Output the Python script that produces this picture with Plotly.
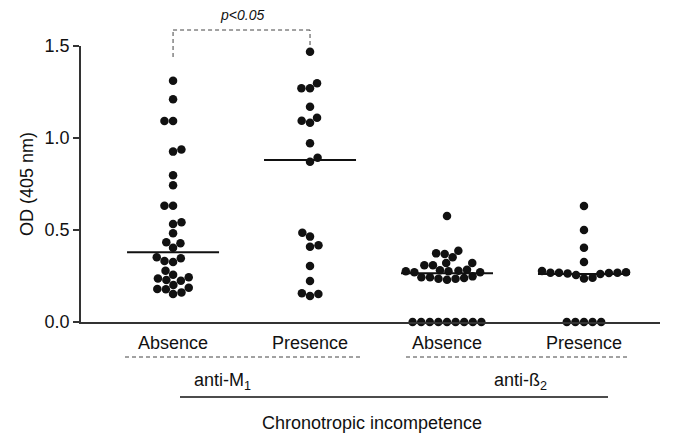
import math
import plotly.graph_objects as go

# ---------------- data ----------------
categories = ["Absence", "Presence", "Absence", "Presence"]
groups = ["anti-M<sub>1</sub>", "anti-ß<sub>2</sub>"]
axis_title = "OD (405 nm)"
bottom_title = "Chronotropic incompetence"
y_ticks = [0.0, 0.5, 1.0, 1.5]
y_tick_labels = ["0.0", "0.5", "1.0", "1.5"]

m1_absence = [0.152, 0.161, 0.178, 0.179, 0.186, 0.201, 0.224, 0.228, 0.237, 0.243,
              0.257, 0.279, 0.326, 0.332, 0.346, 0.352, 0.404, 0.428, 0.433, 0.482,
              0.533, 0.542, 0.632, 0.632, 0.743, 0.797, 0.926, 0.937, 1.092, 1.092,
              1.210, 1.311]
m1_presence = [0.141, 0.152, 0.156, 0.223, 0.304, 0.409, 0.417, 0.464, 0.485, 0.871,
               0.893, 0.971, 1.083, 1.094, 1.110, 1.170, 1.270, 1.270, 1.297, 1.469]
b2_absence = [0.0, 0.0, 0.0, 0.0, 0.0, 0.0, 0.0, 0.0, 0.0,
              0.230, 0.235, 0.235, 0.239, 0.243, 0.243, 0.248,
              0.270, 0.270, 0.276, 0.279, 0.276, 0.281, 0.284,
              0.308, 0.308, 0.321, 0.321, 0.352, 0.370, 0.373, 0.387, 0.576]
b2_presence = [0.0, 0.0, 0.0, 0.0, 0.0, 0.237, 0.241, 0.255, 0.261, 0.264, 0.266,
               0.268, 0.268, 0.268, 0.270, 0.277, 0.326, 0.404, 0.500, 0.630]
medians = [0.379, 0.880, 0.265, 0.261]
p_text = "<i>p&lt;0.05</i>"

series = [m1_absence, m1_presence, b2_absence, b2_presence]
positions = [1, 2, 3, 4]

# ---------------- layout constants (window pixels) ----------------
WIN_W, WIN_H = 673, 435
BODY = 8                       # default page margin around the plot div
PLOT_L, PLOT_R, PLOT_T, PLOT_B = 81, 660, 46, 322
W, H = WIN_W - BODY, WIN_H - BODY
ML, MT = PLOT_L - BODY, PLOT_T - BODY
MR, MB = WIN_W - PLOT_R, WIN_H - PLOT_B
XR = [0.328, 4.555]
YR = [0.0, 1.5]
plot_w = PLOT_R - PLOT_L
plot_h = PLOT_B - PLOT_T
px_x = plot_w / (XR[1] - XR[0])
px_y = plot_h / (YR[1] - YR[0])
DOT = 8.6  # collision distance in px


def swarm(vals):
    placed = []
    offs = [0.0] * len(vals)
    order = sorted(range(len(vals)), key=lambda i: vals[i])
    flip = 1
    for i in order:
        y = vals[i] * px_y
        iv = []
        for (qx, qy) in placed:
            dy = abs(qy - y)
            if dy < DOT:
                w = math.sqrt(DOT * DOT - dy * dy)
                iv.append((qx - w, qx + w))
        cands = [0.0] + [a for a, b in iv] + [b for a, b in iv]
        cands.sort(key=lambda c: (round(abs(c), 4), -c * flip))
        chosen = 0.0
        for c in cands:
            if all(not (a + 1e-6 < c < b - 1e-6) for a, b in iv):
                chosen = c
                break
        if chosen != 0:
            flip = -flip
        placed.append((chosen, y))
        offs[i] = chosen / px_x
    return offs


def py2paper(py):
    return (PLOT_B - py) / plot_h


def px2x(px):
    return XR[0] + (px - PLOT_L) / px_x


fig = go.Figure()
for pos, vals in zip(positions, series):
    offs = swarm(vals)
    fig.add_trace(go.Scatter(
        x=[pos + o for o in offs], y=vals, mode="markers",
        marker=dict(size=8.5, color="#111111", line=dict(width=0)),
        cliponaxis=False, showlegend=False, hoverinfo="skip"))

HALF = 46 / px_x
for pos, med in zip(positions, medians):
    fig.add_trace(go.Scatter(
        x=[pos - HALF, pos + HALF], y=[med, med], mode="lines",
        line=dict(color="#111111", width=2), showlegend=False, hoverinfo="skip"))

shapes = []
dash_col = "#444444"
DASH = "4px,3px"
by = py2paper(30)
shapes.append(dict(type="line", xref="x", yref="paper", x0=positions[0], x1=positions[1],
                   y0=by, y1=by, line=dict(color=dash_col, width=1, dash=DASH)))
shapes.append(dict(type="line", xref="x", yref="paper", x0=positions[0], x1=positions[0],
                   y0=py2paper(57), y1=by, line=dict(color=dash_col, width=1, dash=DASH)))
shapes.append(dict(type="line", xref="x", yref="paper", x0=positions[1], x1=positions[1],
                   y0=py2paper(45), y1=by, line=dict(color=dash_col, width=1, dash=DASH)))

dy = py2paper(357)
shapes.append(dict(type="line", xref="x", yref="paper", x0=px2x(125), x1=px2x(360),
                   y0=dy, y1=dy, line=dict(color=dash_col, width=1, dash=DASH)))
shapes.append(dict(type="line", xref="x", yref="paper", x0=px2x(406), x1=px2x(630),
                   y0=dy, y1=dy, line=dict(color=dash_col, width=1, dash=DASH)))
sy = py2paper(397)
shapes.append(dict(type="line", xref="x", yref="paper", x0=px2x(180), x1=px2x(608),
                   y0=sy, y1=sy, line=dict(color="#111111", width=1.5)))

font = dict(family="Liberation Sans, Arial, sans-serif", color="#111111")
ann = []
for pos, lab in zip(positions, categories):
    ann.append(dict(x=pos, y=py2paper(343), xref="x", yref="paper", text=lab,
                    showarrow=False, font=dict(size=18, **font), xanchor="center", yanchor="middle"))
ann.append(dict(x=px2x(222), y=py2paper(381), xref="x", yref="paper", text=groups[0],
                showarrow=False, font=dict(size=18, **font), xanchor="center", yanchor="middle"))
ann.append(dict(x=px2x(520), y=py2paper(381), xref="x", yref="paper", text=groups[1],
                showarrow=False, font=dict(size=18, **font), xanchor="center", yanchor="middle"))
ann.append(dict(x=px2x(372), y=py2paper(423), xref="x", yref="paper", text=bottom_title,
                showarrow=False, font=dict(size=18, **font), xanchor="center", yanchor="middle"))
ann.append(dict(x=(positions[0] + positions[1]) / 2, y=py2paper(15), xref="x", yref="paper",
                text=p_text, showarrow=False, font=dict(size=14, **font),
                xanchor="center", yanchor="middle"))

fig.update_layout(
    width=W, height=H, margin=dict(l=ML, r=MR, t=MT, b=MB, autoexpand=False),
    plot_bgcolor="white", paper_bgcolor="white",
    shapes=shapes, annotations=ann, font=dict(size=18, **font),
    xaxis=dict(range=XR, showline=True, linecolor="#333333", linewidth=1.5,
               showticklabels=False, ticks="", showgrid=False, zeroline=False, fixedrange=True),
    yaxis=dict(range=YR, showline=True, linecolor="#333333", linewidth=1.5,
               tickvals=y_ticks, ticktext=y_tick_labels, ticks="outside", ticklen=6,
               tickcolor="#333333", tickwidth=1.5, showgrid=False, zeroline=False,
               tickfont=dict(size=18, **font), automargin=False,
               title=dict(text=axis_title, font=dict(size=18, **font), standoff=6)),
)
fig.write_html("out.html")
